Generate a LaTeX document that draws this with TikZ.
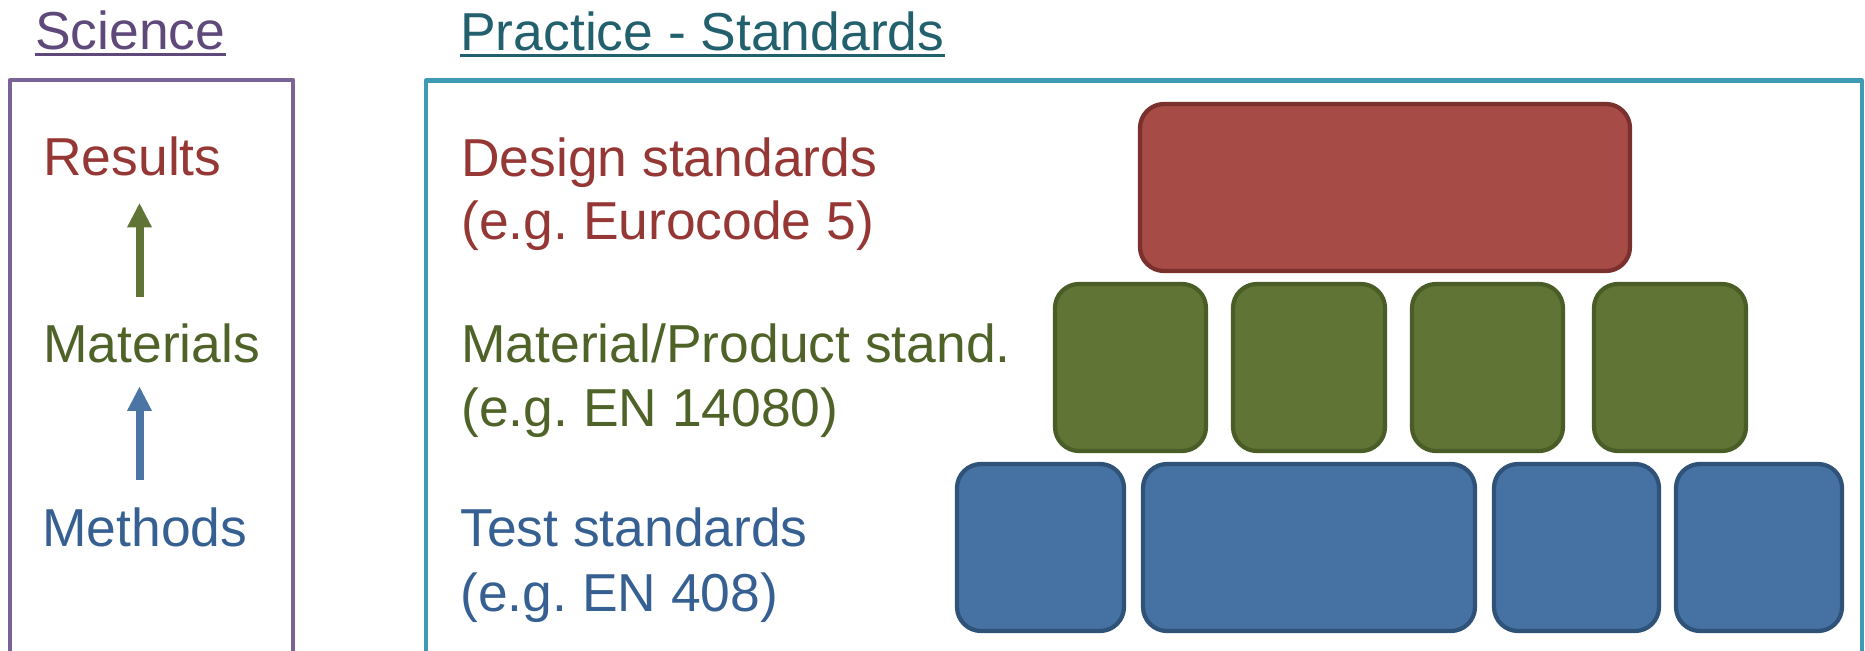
\documentclass[tikz,border=0pt]{standalone}
\usepackage{fontspec}
\setmainfont{Liberation Sans}
\frenchspacing
\usetikzlibrary{arrows.meta}
\definecolor{scitext}{HTML}{5F497A}
\definecolor{sciline}{HTML}{7A6496}
\definecolor{practext}{HTML}{22606E}
\definecolor{pracline}{HTML}{3E9BB3}
\definecolor{redtext}{HTML}{953735}
\definecolor{redfill}{HTML}{A64B46}
\definecolor{reddraw}{HTML}{7A302D}
\definecolor{greentext}{HTML}{4F6228}
\definecolor{greenfill}{HTML}{607535}
\definecolor{greendraw}{HTML}{4B5D27}
\definecolor{bluetext}{HTML}{366092}
\definecolor{bluefill}{HTML}{4672A3}
\definecolor{bluedraw}{HTML}{2F5279}
\begin{document}
\begin{tikzpicture}[x=0.2mm,y=-0.2mm,line join=round,font=\fontsize{30.4}{36}\selectfont,
	txt/.style={inner sep=0pt,anchor=base west},
	blk/.style={line width=0.85mm,rounded corners=4.8mm},
	uparrow/.style={line width=1.6mm,-{Triangle[width=5mm,length=4.8mm,line width=0pt]}}]
		\useasboundingbox (0,0) rectangle (1865,651);
		% frames
		\draw[sciline,line width=0.85mm] (10,670) |- (293,80) -- (293,670);
		\draw[pracline,line width=0.85mm] (426,670) |- (1862,80.5) -- (1862,670);
		% titles
		\node[txt,text=scitext] (sci) at (35,50) {Science};
		\node[txt,text=practext] (prac) at (460,51) {Practice - Standards};
		\draw[scitext,line width=0.6mm] ([yshift=-1mm]sci.base west)--([yshift=-1mm]sci.base east);
		\draw[practext,line width=0.6mm] ([yshift=-1mm]prac.base west)--([yshift=-1mm]prac.base east);
		% science
		\node[txt,text=redtext] (results) at (43,176) {Results};
		\node[txt,text=greentext] (materials) at (43,363) {Materials};
		\node[txt,text=bluetext] (methods) at (42,547) {Methods};
		\coordinate (ax) at (139.5,0);
		\draw[uparrow,greenfill,shorten <=5.4mm,shorten >=5.3mm] (materials.north -| ax)--(results.south -| ax);
		\draw[uparrow,bluefill!98!white,shorten <=5.6mm,shorten >=4.6mm] (methods.north -| ax)--(materials.south -| ax);
		% practice
		\node[txt,text=redtext] (design) at (461,177) {Design standards};
		\node[txt,text=redtext] (ec) at (461,240) {(e.g. Eurocode 5)};
		\node[txt,text=greentext] (product) at (461,363) {Material/Product stand.};
		\node[txt,text=greentext] (en14080) at (461,427) {(e.g. EN 14080)};
		\node[txt,text=bluetext] (test) at (460,547) {Test standards};
		\node[txt,text=bluetext] (en408) at (460,612) {(e.g. EN 408)};
		% blocks
		\draw[blk,draw=reddraw,fill=redfill] (1140,104) rectangle (1630,271);
		\draw[blk,draw=greendraw,fill=greenfill] (1055,284) rectangle (1206,451);
		\draw[blk,draw=greendraw,fill=greenfill] (1233,284) rectangle (1385,451);
		\draw[blk,draw=greendraw,fill=greenfill] (1412,284) rectangle (1563,451);
		\draw[blk,draw=greendraw,fill=greenfill] (1594,284) rectangle (1746,451);
		\draw[blk,draw=bluedraw,fill=bluefill] (957,464) rectangle (1124,631);
		\draw[blk,draw=bluedraw,fill=bluefill] (1143,464) rectangle (1475,631);
		\draw[blk,draw=bluedraw,fill=bluefill] (1494,464) rectangle (1659,631);
		\draw[blk,draw=bluedraw,fill=bluefill] (1676,464) rectangle (1842,631);
\end{tikzpicture}
\end{document}
